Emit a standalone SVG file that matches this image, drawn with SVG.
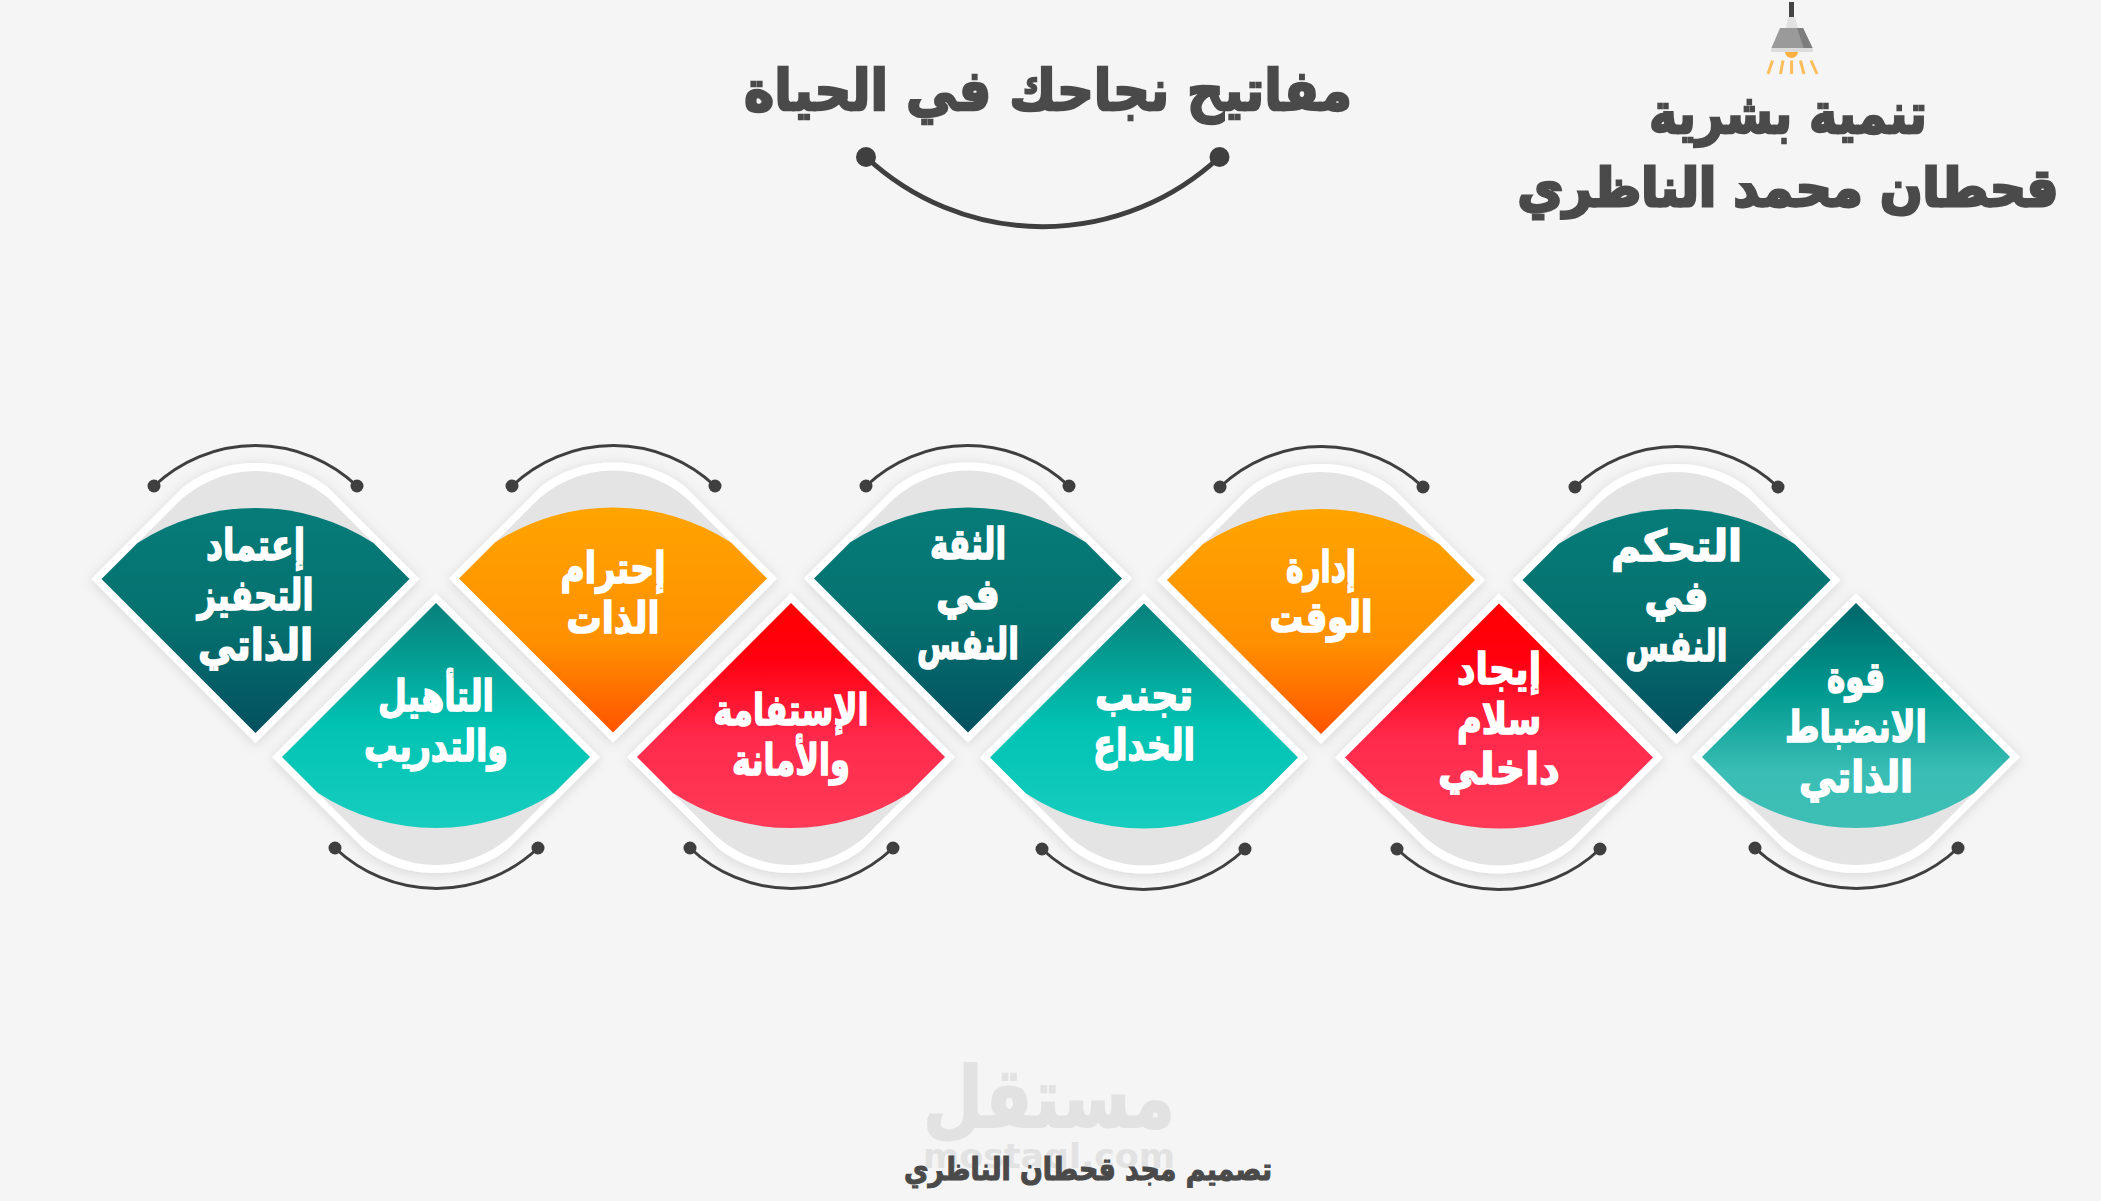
<svg xmlns="http://www.w3.org/2000/svg" width="2101" height="1201" viewBox="0 0 2101 1201">
<style>
text{font-family:"DejaVu Sans","Noto Sans",sans-serif;font-weight:700;text-anchor:middle;direction:rtl}
.l{fill:#fff;stroke:#fff;stroke-width:1.6;font-size:43px}
.d{fill:#4a4a4a;stroke:#4a4a4a;stroke-width:2.4}
.w{fill:#fff}
.g{fill:#e4e4e4}
.arc{fill:none;stroke:#3f3f3f;stroke-width:3;stroke-linecap:round}
.dot{fill:#3f3f3f}
.ray{stroke:#fdbd5b;stroke-width:3}
</style>
<defs>
<filter id="sh" x="-15%" y="-15%" width="130%" height="130%"><feDropShadow dx="0" dy="2" stdDeviation="6" flood-color="#000" flood-opacity=".13"/></filter>
<linearGradient id="teal" x1="0" y1="0" x2="0" y2="1"><stop offset="0" stop-color="#067c79"/><stop offset=".5" stop-color="#05716f"/><stop offset="1" stop-color="#03505f"/></linearGradient>
<linearGradient id="orange" x1="0" y1="0" x2="0" y2="1"><stop offset="0" stop-color="#ffa400"/><stop offset=".6" stop-color="#ff9000"/><stop offset="1" stop-color="#ff5300"/></linearGradient>
<linearGradient id="cyan" x1="0" y1="0" x2="0" y2="1"><stop offset="0" stop-color="#07807a"/><stop offset=".55" stop-color="#01c3b3"/><stop offset="1" stop-color="#17cdbf"/></linearGradient>
<linearGradient id="red" x1="0" y1="0" x2="0" y2="1"><stop offset="0" stop-color="#ff0000"/><stop offset=".25" stop-color="#ff0010"/><stop offset=".6" stop-color="#ff2a4c"/><stop offset="1" stop-color="#ff3a57"/></linearGradient>
<linearGradient id="tealb" x1="0" y1="0" x2="0" y2="1"><stop offset="0" stop-color="#00666a"/><stop offset=".4" stop-color="#009a90"/><stop offset=".75" stop-color="#3abdb4"/><stop offset="1" stop-color="#3dbfb6"/></linearGradient>
<path id="o1" d="M-164 0L-72-92C-50-109-25-116 0-116C25-116 50-109 72-92L164 0L0 164Z"/>
<path id="g1" d="M-154 0L-76-78C-55-97-28-108 0-108C28-108 55-97 76-78L154 0L0 154Z"/>
<path id="c1" d="M-154 0L-118-36A216 216 0 0 1 118-36L154 0L0 154Z"/>
<path id="o2" d="M-164 0L-72 92C-50 109-25 116 0 116C25 116 50 109 72 92L164 0L0-164Z"/>
<path id="g2" d="M-154 0L-76 78C-55 97-28 108 0 108C28 108 55 97 76 78L154 0L0-154Z"/>
<path id="c2" d="M-154 0L-118 36A216 216 0 0 0 118 36L154 0L0-154Z"/>
</defs>
<rect id="background" width="2101" height="1201" fill="#f5f5f5"/>
<g id="watermark">
<text x="1049" y="1127" font-size="84" fill="#e2e2e2" stroke="#e2e2e2" stroke-width="2" textLength="252" lengthAdjust="spacingAndGlyphs">مستقل</text>
<text x="1049" y="1168" font-size="34" fill="#e2e2e2" textLength="252" lengthAdjust="spacingAndGlyphs" style="direction:ltr">mostaql.com</text>
</g>
<g id="lamp">
<rect x="1789" y="2" width="5" height="15" fill="#444"/>
<path d="M1786 28L1788 17H1795L1798 28Z" fill="#e2e2e2"/>
<path d="M1780 28H1803L1813 49H1771Z" fill="#9a9a9a"/>
<path d="M1797 28H1803L1813 49H1804Z" fill="#7d7d7d"/>
<rect x="1771" y="48" width="42" height="4" fill="#dcdcdc"/>
<path d="M1785 52H1798A6.500 6 0 0 1 1785 52Z" fill="#fbb040"/>
<path class="ray" d="M1768 74L1772.500 60.500M1780.500 74L1783 60.500M1791.600 60.500V74M1800.400 60.500L1804 74M1811 60.500L1817 74"/>
</g>
<g id="title">
<text class="d" x="1048" y="110" font-size="56" textLength="608" lengthAdjust="spacingAndGlyphs">مفاتيح نجاحك في الحياة</text>
</g>
<g id="header">
<text class="d" x="1788" y="133" font-size="56" textLength="278" lengthAdjust="spacingAndGlyphs">تنمية بشرية</text>
<text class="d" style="stroke-width:3" x="1788" y="206" font-size="52" textLength="541" lengthAdjust="spacingAndGlyphs">قحطان محمد الناظري</text>
</g>
<g id="credit">
<text class="d" style="stroke-width:1.200" x="1088" y="1180" font-size="31" textLength="368" lengthAdjust="spacingAndGlyphs">تصميم مجد قحطان الناظري</text>
</g>
<g id="connectors">
<path class="arc" style="stroke-width:5" d="M866 157A259 259 0 0 0 1219.500 157"/>
<circle class="dot" cx="866" cy="157" r="10"/><circle class="dot" cx="1219.500" cy="157" r="10"/>
<g id="arcs-top">
<path class="arc" d="M154 486A147.500 147.500 0 0 1 357 486"/><circle class="dot" cx="154" cy="486" r="6.500"/><circle class="dot" cx="357" cy="486" r="6.500"/>
<path class="arc" d="M512 486A147.500 147.500 0 0 1 715 486"/><circle class="dot" cx="512" cy="486" r="6.500"/><circle class="dot" cx="715" cy="486" r="6.500"/>
<path class="arc" d="M866 486A147.500 147.500 0 0 1 1069 486"/><circle class="dot" cx="866" cy="486" r="6.500"/><circle class="dot" cx="1069" cy="486" r="6.500"/>
<path class="arc" d="M1220 487A147.500 147.500 0 0 1 1423 487"/><circle class="dot" cx="1220" cy="487" r="6.500"/><circle class="dot" cx="1423" cy="487" r="6.500"/>
<path class="arc" d="M1575 487A147.500 147.500 0 0 1 1778 487"/><circle class="dot" cx="1575" cy="487" r="6.500"/><circle class="dot" cx="1778" cy="487" r="6.500"/>
</g>
<g id="arcs-bottom">
<path class="arc" d="M335 848A147.500 147.500 0 0 0 538 848"/><circle class="dot" cx="335" cy="848" r="6.500"/><circle class="dot" cx="538" cy="848" r="6.500"/>
<path class="arc" d="M690 848A147.500 147.500 0 0 0 893 848"/><circle class="dot" cx="690" cy="848" r="6.500"/><circle class="dot" cx="893" cy="848" r="6.500"/>
<path class="arc" d="M1042 849A147.500 147.500 0 0 0 1245 849"/><circle class="dot" cx="1042" cy="849" r="6.500"/><circle class="dot" cx="1245" cy="849" r="6.500"/>
<path class="arc" d="M1397 849A147.500 147.500 0 0 0 1600 849"/><circle class="dot" cx="1397" cy="849" r="6.500"/><circle class="dot" cx="1600" cy="849" r="6.500"/>
<path class="arc" d="M1755 848A147.500 147.500 0 0 0 1958 848"/><circle class="dot" cx="1755" cy="848" r="6.500"/><circle class="dot" cx="1958" cy="848" r="6.500"/>
</g>
</g>
<g id="node-1" transform="translate(255.500 579)"><use href="#o1" class="w" filter="url(#sh)"/><use href="#g1" class="g"/><use href="#c1" fill="url(#teal)"/>
<text class="l" y="-19" textLength="99" lengthAdjust="spacingAndGlyphs">إعتماد</text><text class="l" y="31" textLength="116" lengthAdjust="spacingAndGlyphs">التحفيز</text><text class="l" y="81" textLength="115" lengthAdjust="spacingAndGlyphs">الذاتي</text></g>
<g id="node-2" transform="translate(436 757)"><use href="#o2" class="w" filter="url(#sh)"/><use href="#g2" class="g"/><use href="#c2" fill="url(#cyan)"/>
<text class="l" y="-46" textLength="116" lengthAdjust="spacingAndGlyphs">التأهيل</text><text class="l" y="4" textLength="144" lengthAdjust="spacingAndGlyphs">والتدريب</text></g>
<g id="node-3" transform="translate(613 578.500)"><use href="#o1" class="w" filter="url(#sh)"/><use href="#g1" class="g"/><use href="#c1" fill="url(#orange)"/>
<text class="l" y="4" textLength="105" lengthAdjust="spacingAndGlyphs">إحترام</text><text class="l" y="54" textLength="93" lengthAdjust="spacingAndGlyphs">الذات</text></g>
<g id="node-4" transform="translate(791 757)"><use href="#o2" class="w" filter="url(#sh)"/><use href="#g2" class="g"/><use href="#c2" fill="url(#red)"/>
<text class="l" y="-32" textLength="155" lengthAdjust="spacingAndGlyphs">الإستفامة</text><text class="l" y="18" textLength="118" lengthAdjust="spacingAndGlyphs">والأمانة</text></g>
<g id="node-5" transform="translate(968 578.500)"><use href="#o1" class="w" filter="url(#sh)"/><use href="#g1" class="g"/><use href="#c1" fill="url(#teal)"/>
<text class="l" y="-20" textLength="76" lengthAdjust="spacingAndGlyphs">الثقة</text><text class="l" y="30" textLength="64" lengthAdjust="spacingAndGlyphs">في</text><text class="l" y="80" textLength="102" lengthAdjust="spacingAndGlyphs">النفس</text></g>
<g id="node-6" transform="translate(1144 757.500)"><use href="#o2" class="w" filter="url(#sh)"/><use href="#g2" class="g"/><use href="#c2" fill="url(#cyan)"/>
<text class="l" y="-48" textLength="98" lengthAdjust="spacingAndGlyphs">تجنب</text><text class="l" y="2" textLength="102" lengthAdjust="spacingAndGlyphs">الخداع</text></g>
<g id="node-7" transform="translate(1321 580)"><use href="#o1" class="w" filter="url(#sh)"/><use href="#g1" class="g"/><use href="#c1" fill="url(#orange)"/>
<text class="l" y="2" textLength="70" lengthAdjust="spacingAndGlyphs">إدارة</text><text class="l" y="52" textLength="103" lengthAdjust="spacingAndGlyphs">الوقت</text></g>
<g id="node-8" transform="translate(1499 757.500)"><use href="#o2" class="w" filter="url(#sh)"/><use href="#g2" class="g"/><use href="#c2" fill="url(#red)"/>
<text class="l" y="-74" textLength="84" lengthAdjust="spacingAndGlyphs">إيجاد</text><text class="l" y="-24" textLength="84" lengthAdjust="spacingAndGlyphs">سلام</text><text class="l" y="26" textLength="122" lengthAdjust="spacingAndGlyphs">داخلي</text></g>
<g id="node-9" transform="translate(1676.500 580)"><use href="#o1" class="w" filter="url(#sh)"/><use href="#g1" class="g"/><use href="#c1" fill="url(#teal)"/>
<text class="l" y="-19" textLength="131" lengthAdjust="spacingAndGlyphs">التحكم</text><text class="l" y="31" textLength="64" lengthAdjust="spacingAndGlyphs">في</text><text class="l" y="81" textLength="102" lengthAdjust="spacingAndGlyphs">النفس</text></g>
<g id="node-10" transform="translate(1856 757)"><use href="#o2" class="w" filter="url(#sh)"/><use href="#g2" class="g"/><use href="#c2" fill="url(#tealb)"/>
<text class="l" y="-65" textLength="58" lengthAdjust="spacingAndGlyphs">قوة</text><text class="l" y="-15" textLength="142" lengthAdjust="spacingAndGlyphs">الانضباط</text><text class="l" y="35" textLength="114" lengthAdjust="spacingAndGlyphs">الذاتي</text></g>
</svg>
